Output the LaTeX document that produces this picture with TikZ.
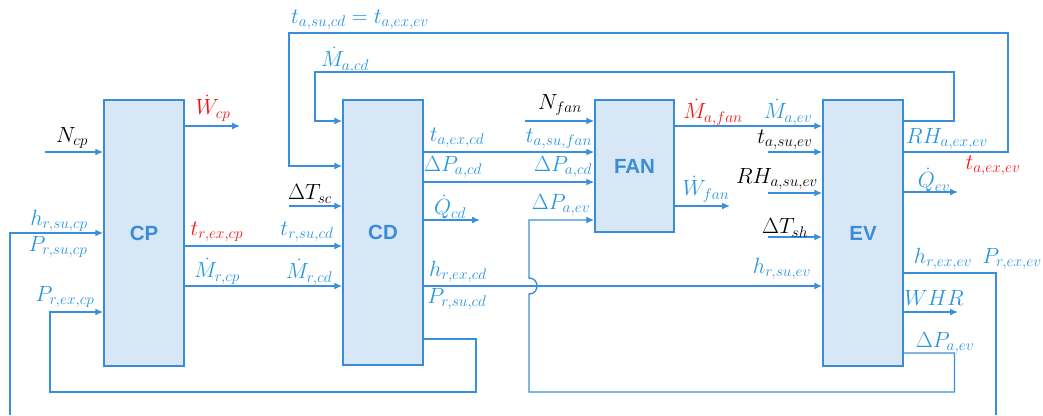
\RequirePackage{fix-cm}
\documentclass[tikz,border=0pt]{standalone}
\usepackage{fontspec}
\newfontfamily\boxfont{Liberation Sans}
\usetikzlibrary{arrows.meta}
\definecolor{lblue}{RGB}{58,143,220}
\definecolor{tblue}{RGB}{38,150,222}
\definecolor{bfill}{RGB}{216,231,246}
\definecolor{bblue}{RGB}{58,140,215}
\definecolor{rred}{RGB}{245,20,20}
\begin{document}
\begin{tikzpicture}[x=1pt,y=-1pt,
  blk/.style={draw=bblue, fill=bfill, line width=1.5pt, inner sep=0pt,
    font=\boxfont\bfseries\fontsize{20.5}{23}\selectfont, text=bblue},
  wire/.style={draw=lblue, line width=1.4pt},
  arr/.style={wire, -{Latex[length=8pt,width=7pt]}},
  lab/.style={text=tblue, font=\fontsize{22}{26}\selectfont, inner sep=0pt},
  blab/.style={lab, text=black},
  rlab/.style={lab, text=rred}]
\useasboundingbox (0,0) rectangle (1043,415);

% blocks
\node[blk, minimum width=80pt, minimum height=266pt] (CP) at (144,233) {CP};
\node[blk, minimum width=80pt, minimum height=265pt] (CD) at (383,232.5) {CD};
\node[blk, minimum width=79pt, minimum height=132pt] (FAN) at (634.5,166) {FAN};
\node[blk, minimum width=80pt, minimum height=266pt] (EV) at (863,233) {EV};

% free ends
\coordinate (ncp) at (45,152);
\coordinate (wcp) at (240,126);
\coordinate (hl) at (10,415);
\coordinate (dtsc) at (289,206);
\coordinate (qcd) at (480,220);
\coordinate (nfan) at (525,121);
\coordinate (wfan) at (730,206);
\coordinate (tasuev) at (768,152);
\coordinate (rhsuev) at (768,193);
\coordinate (dtsh) at (768,237);
\coordinate (qev) at (958,192);
\coordinate (whr) at (958,312);
\coordinate (hr) at (996,415);

% CP connectors
\draw[arr] (ncp) -- (ncp -| CP.west);
\draw[arr] (CP.east |- wcp) -- (wcp);
\draw[arr] (hl) |- (CP.west |- 0,233);
\draw[arr] (CP.east |- 0,246) -- (CD.west |- 0,246);
\draw[arr] (CP.east |- 0,286) -- (CD.west |- 0,286);
\draw[arr] (CD.east |- 0,339) -- (476,339) -- (476,392) -- (50,392) -- (50,312) -- (CP.west |- 0,312);

% CD connectors
\draw[arr] (EV.east |- 0,152) -- (1008,152) -- (1008,33) -- (289,33) -- (289,166) -- (CD.west |- 0,166);
\draw[arr] (EV.east |- 0,121) -- (954,121) -- (954,72) -- (315,72) -- (315,121) -- (CD.west |- 0,121);
\draw[arr] (dtsc) -- (dtsc -| CD.west);
\draw[arr] (CD.east |- 0,152) -- (FAN.west |- 0,152);
\draw[arr] (CD.east |- 0,182) -- (FAN.west |- 0,182);
\draw[arr] (CD.east |- qcd) -- (qcd);
\draw[arr] (CD.east |- 0,286) -- (EV.west |- 0,286);

% FAN connectors
\draw[arr] (EV.east |- 0,353) -- (954.5,353) -- (954.5,392) -- (529,392) -- (529,294)
  .. controls (539.7,294) and (539.7,278) .. (529,278) -- (529,220) -- (FAN.west |- 0,220);
\draw[arr] (nfan) -- (nfan -| FAN.west);
\draw[arr] (FAN.east |- 0,126) -- (EV.west |- 0,126);
\draw[arr] (FAN.east |- wfan) -- (wfan);

% EV connectors
\draw[arr] (tasuev) -- (tasuev -| EV.west);
\draw[arr] (rhsuev) -- (rhsuev -| EV.west);
\draw[arr] (dtsh) -- (dtsh -| EV.west);
\draw[arr] (EV.east |- qev) -- (qev);
\draw[wire] (EV.east |- 0,273) -- (996,273) -- (hr);
\draw[arr] (EV.east |- whr) -- (whr);

% labels
\node[blab] (l1) at (72,138) {$N_{cp}$};
\node[rlab] (l2) at (213,108) {$\dot{W}_{cp}$};
\node[lab] (l3) at (59,221) {$h_{r,su,cp}$};
\node[lab] (l4) at (58,247) {$P_{r,su,cp}$};
\node[lab] (l5) at (65,297) {$P_{r,ex,cp}$};
\node[rlab] (l6) at (217,232) {$t_{r,ex,cp}$};
\node[lab] (l7) at (217,271) {$\dot{M}_{r,cp}$};
\node[lab] (l8) at (307,232) {$t_{r,su,cd}$};
\node[lab] (l9) at (309,272) {$\dot{M}_{r,cd}$};
\node[blab] (l10) at (310,194) {$\Delta T_{sc}$};
\node[lab] (l11) at (360,20) {$t_{a,su,cd}=t_{a,ex,ev}$};
\node[lab] (l12) at (345,60) {$\dot{M}_{a,cd}$};
\node[lab] (l13) at (457,138) {$t_{a,ex,cd}$};
\node[lab] (l14) at (453,167) {$\Delta P_{a,cd}$};
\node[lab] (l15) at (450,207) {$\dot{Q}_{cd}$};
\node[lab] (l16) at (458,272) {$h_{r,ex,cd}$};
\node[lab] (l17) at (457,299) {$P_{r,su,cd}$};
\node[blab] (l18) at (560,105) {$N_{fan}$};
\node[lab] (l19) at (559,139) {$t_{a,su,fan}$};
\node[lab] (l20) at (563,167) {$\Delta P_{a,cd}$};
\node[lab] (l21) at (561,205) {$\Delta P_{a,ev}$};
\node[rlab] (l22) at (713,112) {$\dot{M}_{a,fan}$};
\node[lab] (l23) at (788,112) {$\dot{M}_{a,ev}$};
\node[blab] (l24) at (785,140) {$t_{a,su,ev}$};
\node[blab] (l25) at (777,179) {$RH_{a,su,ev}$};
\node[lab] (l26) at (706,189) {$\dot{W}_{fan}$};
\node[blab] (l27) at (785,228) {$\Delta T_{sh}$};
\node[lab] (l28) at (782,269) {$h_{r,su,ev}$};
\node[lab] (l29) at (947,139) {$RH_{a,ex,ev}$};
\node[rlab] (l30) at (993,166) {$t_{a,ex,ev}$};
\node[lab] (l31) at (934,180) {$\dot{Q}_{ev}$};
\node[lab] (l32) at (943,259) {$h_{r,ex,ev}$};
\node[lab] (l33) at (1012,259) {$P_{r,ex,ev}$};
\node[lab] (l34) at (934,298) {$WHR$};
\node[lab] (l35) at (945,343) {$\Delta P_{a,ev}$};
\end{tikzpicture}
\end{document}
